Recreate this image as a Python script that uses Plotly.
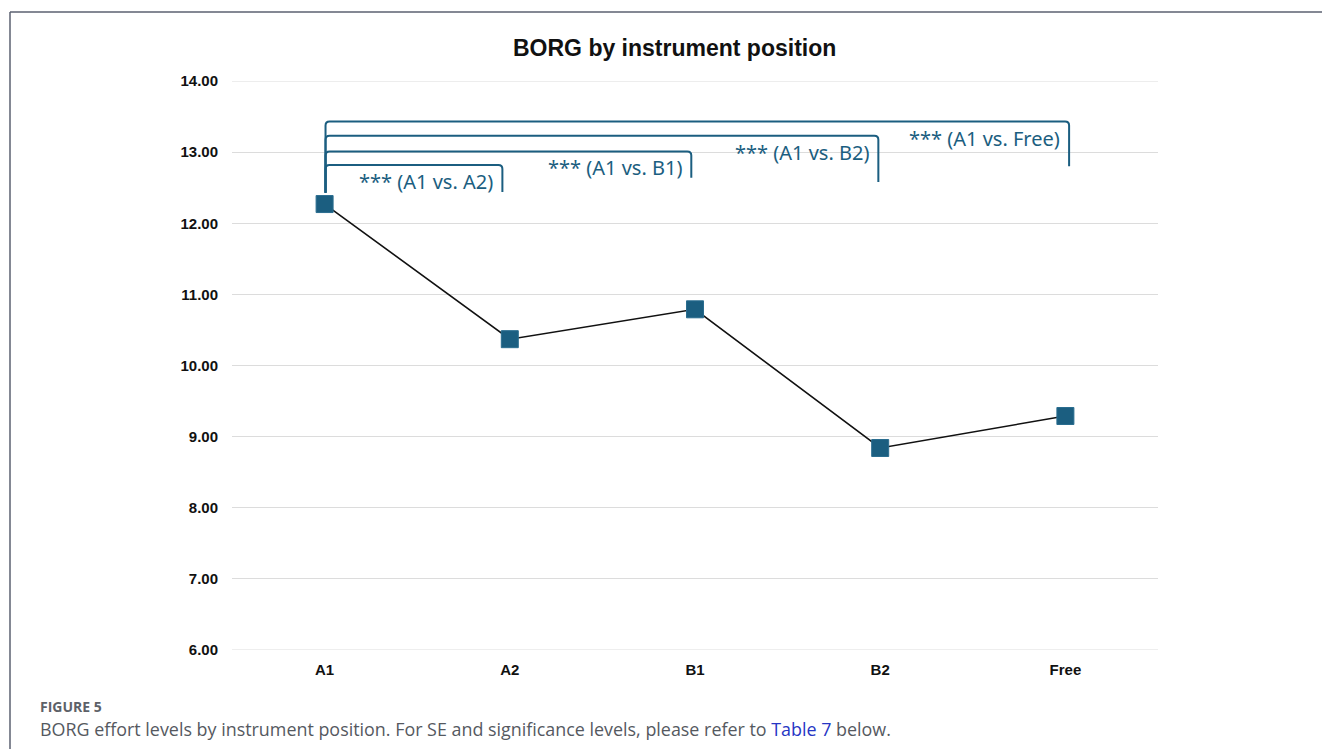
import plotly.graph_objects as go

# Mean BORG effort rating per instrument position
positions = ["A1", "A2", "B1", "B2", "Free"]
borg_mean = [12.27, 10.37, 10.79, 8.84, 9.29]

# Significance brackets: comparison label, bracket end (x index), bracket top, right-leg bottom
comparisons = ["*** (A1 vs. A2)", "*** (A1 vs. B1)", "*** (A1 vs. B2)", "*** (A1 vs. Free)"]
bracket_end = [0.96, 1.98, 2.99, 4.02]
bracket_top = [12.82, 13.01, 13.23, 13.43]
bracket_leg = [12.44, 12.64, 12.58, 12.80]
bracket_start = 0.005
bracket_start_bottom = 12.43

y_min, y_max = 6, 14

ACCENT = "#1b5e80"
W, H = 1322, 749
L, R, T, B = 232, 164, 81, 99
PW, PH = W - L - R, H - T - B


def px_to_paper_x(px):
    return (px - L) / PW


def px_to_paper_y(py):
    return (H - B - py) / PH


fig = go.Figure()

# Grid lines at the range edges (Plotly omits those)
shapes = []
for yv in (y_min, y_max):
    shapes.append(dict(type="line", xref="paper", yref="y", x0=0, x1=1,
                       y0=yv, y1=yv, line=dict(color="#dcdcdc", width=1),
                       layer="below"))

fig.add_trace(go.Scatter(
    x=list(range(len(positions))),
    y=borg_mean,
    mode="lines+markers",
    line=dict(color="#111111", width=1.6),
    marker=dict(symbol="square", size=17, color=ACCENT,
                line=dict(color="#2a6d8f", width=1)),
    hoverinfo="skip",
    showlegend=False,
))

# Bracket geometry: rounded corners of a few pixels, converted to data units
rx = 4 / (PW / 5)
ry = 4 / (PH / 8)
annotations = []
for label, x1, yt, yb in zip(comparisons, bracket_end, bracket_top, bracket_leg):
    x0 = bracket_start
    path = (
        f"M {x0},{bracket_start_bottom} L {x0},{yt - ry} "
        f"Q {x0},{yt} {x0 + rx},{yt} L {x1 - rx},{yt} "
        f"Q {x1},{yt} {x1},{yt - ry} L {x1},{yb}"
    )
    shapes.append(dict(type="path", path=path, xref="x", yref="y",
                       line=dict(color=ACCENT, width=2), layer="above"))
    annotations.append(dict(
        x=x1, y=yt, xref="x", yref="y", text=label, showarrow=False,
        xanchor="right", yanchor="top", xshift=-7, yshift=-1,
        font=dict(family="Noto Sans", size=20, color=ACCENT),
    ))

# Outer figure frame (left and top edges)
frame_color = "#5b6070"
shapes.append(dict(type="line", xref="paper", yref="paper",
                   x0=px_to_paper_x(10), x1=px_to_paper_x(10),
                   y0=px_to_paper_y(12), y1=px_to_paper_y(H + 5),
                   line=dict(color=frame_color, width=1.5)))
shapes.append(dict(type="line", xref="paper", yref="paper",
                   x0=px_to_paper_x(10), x1=px_to_paper_x(W + 5),
                   y0=px_to_paper_y(12), y1=px_to_paper_y(12),
                   line=dict(color=frame_color, width=1.5)))

# Chart title
annotations.append(dict(
    x=px_to_paper_x(674), y=px_to_paper_y(48), xref="paper", yref="paper",
    text="<b>BORG by instrument position</b>", showarrow=False,
    xanchor="center", yanchor="middle",
    font=dict(family="Liberation Sans", size=23, color="#111111"),
))

# Figure caption
annotations.append(dict(
    x=px_to_paper_x(38), y=px_to_paper_y(706), xref="paper", yref="paper",
    text="<b>FIGURE 5</b>", showarrow=False, xanchor="left", yanchor="middle",
    font=dict(family="Open Sans", size=14, color="#5d6168"),
))
annotations.append(dict(
    x=px_to_paper_x(38), y=px_to_paper_y(729), xref="paper", yref="paper",
    text=("BORG effort levels by instrument position. For SE and significance levels, "
          "please refer to <span style='color:#2636c4'>Table 7</span> below."),
    showarrow=False, xanchor="left", yanchor="middle",
    font=dict(family="Open Sans", size=17.9, color="#55595f"),
))

fig.update_layout(
    width=W, height=H,
    margin=dict(l=L, r=R, t=T, b=B),
    paper_bgcolor="white", plot_bgcolor="white",
    shapes=shapes, annotations=annotations,
    xaxis=dict(
        range=[-0.5, len(positions) - 0.5],
        tickmode="array", tickvals=list(range(len(positions))),
        ticktext=[f"<b>{p}</b>" for p in positions],
        showgrid=False, zeroline=False, showline=False, ticks="",
        ticklabelstandoff=9,
        tickfont=dict(family="Liberation Sans", size=15, color="#111111"),
    ),
    yaxis=dict(
        range=[y_min, y_max], dtick=1, tick0=6, tickformat=".2f",
        showgrid=True, gridcolor="#dcdcdc", gridwidth=1,
        zeroline=False, showline=False, ticks="", ticklabelstandoff=13,
        tickfont=dict(family="Liberation Sans", size=15, color="#111111",
                      weight="bold"),
    ),
)

fig.write_html("out.html")
